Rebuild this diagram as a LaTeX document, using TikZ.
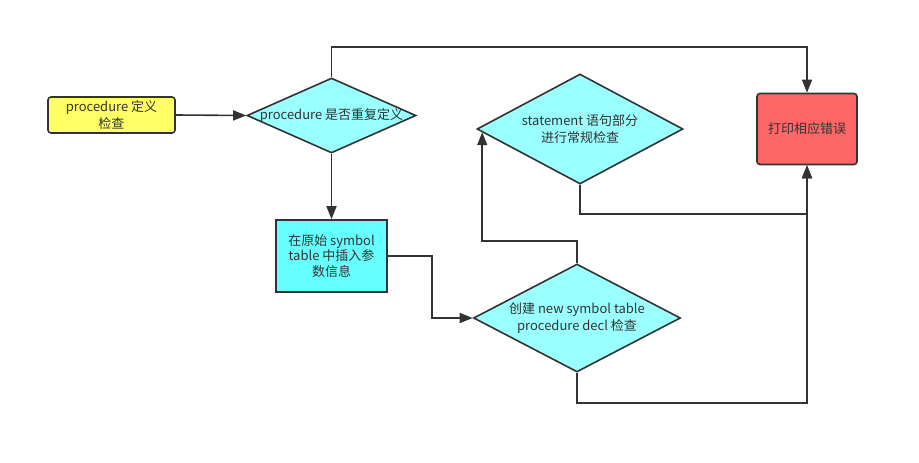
\documentclass[tikz,border=0pt]{standalone}
\usepackage{fontspec}
\setmainfont{Noto Sans CJK SC}
\usetikzlibrary{shapes.geometric,arrows.meta,calc}
\definecolor{ln}{HTML}{333333}
\definecolor{yel}{HTML}{FFFF66}
\definecolor{cyd}{HTML}{99FFFF}
\definecolor{cyr}{HTML}{66FFFF}
\definecolor{redf}{HTML}{FF6666}
\tikzset{
  box/.style={draw=ln, line width=1.6pt, inner sep=0pt, text=ln, align=center,
    font=\fontsize{13}{17}\selectfont},
  dia/.style={box, diamond},
  txt/.style={text=ln, align=center, inner sep=0pt, font=\fontsize{13}{17}\selectfont},
  conn/.style={draw=ln, line width=1.6pt},
  arr/.style={conn, -{Triangle[length=13pt,width=10pt]}}
}
\begin{document}
\begin{tikzpicture}[x=1pt,y=-1pt]
\useasboundingbox[fill=white] (0,0) rectangle (919,463);
% nodes
\node[box, rounded corners=3pt, fill=yel, minimum width=127pt, minimum height=36pt] (start) at (111.5,115) {procedure 定义\\检查};
\node[dia, fill=cyd, minimum width=169pt, minimum height=75pt] (d1) at (331.5,115.5) {};
\node[txt] (d1t) at (d1.center) {procedure 是否重复定义};
\node[box, fill=cyr, minimum width=111pt, minimum height=72pt, font=\fontsize{13}{15.5}\selectfont] (ins) at (331.5,256) {在原始 symbol\\table 中插入参\\数信息};
\node[dia, fill=cyd, minimum width=206pt, minimum height=110pt] (d2) at (580,129) {};
\node[txt] (d2t) at (d2.center) {statement 语句部分\\进行常规检查};
\node[dia, fill=cyd, minimum width=207pt, minimum height=108pt] (d3) at (577,318) {};
\node[txt] (d3t) at (d3.center) {创建 new symbol table\\procedure decl 检查};
\node[box, rounded corners=3pt, fill=redf, minimum width=100pt, minimum height=71pt] (err) at (807,129) {打印相应错误};
% helper coordinate on the lower-left edge of d2
\coordinate (d2in) at ($(d2.west)!0.058!(d2.south)$);
% connectors
\draw[arr] (start.east) -- (d1.west);
\draw[arr] (d1.north) -- ++(0,-30) -| (err.north);
\draw[arr] (d1.south) -- (ins.north);
\draw[arr] (ins.east) -- ++(44,0) |- (d3.west);
\draw[arr] (d3.north) -- ++(0,-22) -| (d2in);
\draw[arr] (d2.south) -- ++(0,29) -| (err.south);
\draw[arr] (d3.south) -- ++(0,30) -| (err.south);
\end{tikzpicture}
\end{document}
